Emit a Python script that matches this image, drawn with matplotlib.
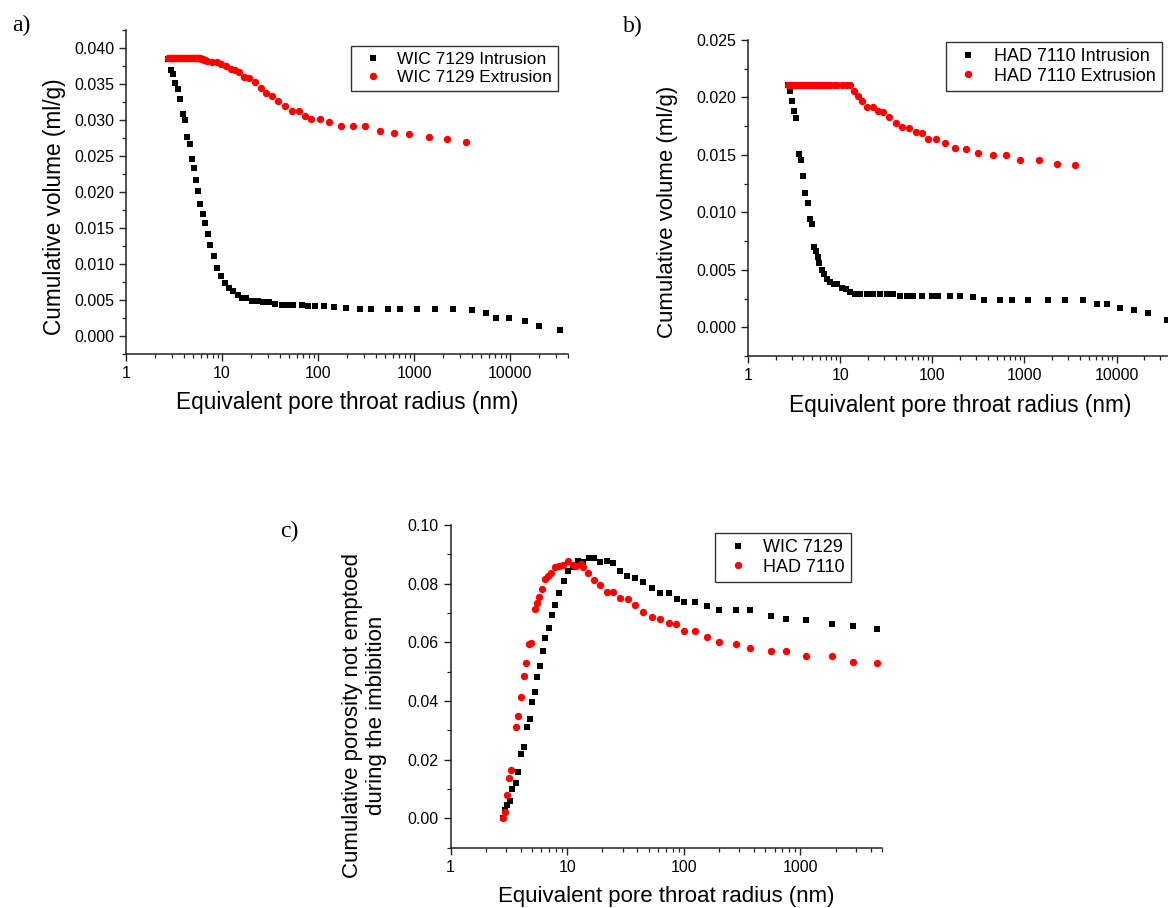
import matplotlib
matplotlib.use("Agg")
import matplotlib.pyplot as plt
import matplotlib.ticker as mticker

plt.rcParams['font.family'] = ['Liberation Sans', 'DejaVu Sans']

# panel a) WIC 7129
a_int_r = [2.75, 2.92, 3.09, 3.24, 3.51, 3.68, 3.90, 4.12, 4.36, 4.61,
           4.83, 5.11, 5.36, 5.62, 5.94, 6.28, 6.69, 7.14, 7.55, 8.18,
           8.92, 9.74, 10.7, 11.8, 13.1, 14.5, 16.2, 17.8, 20.6, 23.4,
           26.6, 30.7, 36.0, 42.2, 48.3, 54.5, 68.1, 78.5, 93.7, 114,
           148, 197, 270, 359, 539, 716, 1074, 1650, 2517, 3965,
           5595, 7160, 9770, 14220, 19860, 32800]
a_int_v = [0.0385, 0.0370, 0.0364, 0.0351, 0.0343, 0.0329, 0.0308, 0.0300, 0.0277, 0.0267,
           0.0246, 0.0233, 0.0216, 0.0202, 0.0184, 0.0170, 0.0157, 0.0141, 0.0126, 0.0111,
           0.0095, 0.0083, 0.0074, 0.0067, 0.0062, 0.0057, 0.0053, 0.0053, 0.0049, 0.0048,
           0.0047, 0.0047, 0.0044, 0.0043, 0.0043, 0.0043, 0.0043, 0.0041, 0.0041, 0.0041,
           0.0040, 0.0039, 0.0038, 0.0038, 0.0038, 0.0038, 0.0038, 0.0038, 0.0037, 0.0036,
           0.0032, 0.0025, 0.0025, 0.0021, 0.0014, 0.0008]
a_ext_r = [2.75, 2.84, 2.92, 3.00, 3.09, 3.17, 3.24, 3.37, 3.51, 3.60,
           3.68, 3.79, 3.90, 4.01, 4.12, 4.24, 4.36, 4.48, 4.61, 4.72,
           4.83, 4.97, 5.11, 5.23, 5.36, 5.49, 5.62, 5.78, 5.94, 6.11,
           6.28, 6.48, 6.69, 7.03, 7.91, 8.91, 9.66, 10.9, 12.3, 13.6,
           15.0, 16.9, 19.0, 22.0, 25.2, 28.4, 32.8, 38.4, 45.0, 53.6,
           62.9, 73.8, 85.2, 104, 131, 173, 232, 311, 446, 624,
           888, 1416, 2213, 3435]
a_ext_v = [0.0386, 0.0386, 0.0386, 0.0386, 0.0386, 0.0386, 0.0386, 0.0386, 0.0386, 0.0386,
           0.0386, 0.0386, 0.0386, 0.0386, 0.0386, 0.0386, 0.0386, 0.0386, 0.0386, 0.0386,
           0.0386, 0.0386, 0.0386, 0.0386, 0.0386, 0.0386, 0.0386, 0.0386, 0.0386, 0.0385,
           0.0385, 0.0384, 0.0383, 0.0382, 0.0381, 0.0381, 0.0378, 0.0375, 0.0371, 0.0370,
           0.0366, 0.0360, 0.0358, 0.0353, 0.0344, 0.0338, 0.0334, 0.0327, 0.0320, 0.0313,
           0.0313, 0.0306, 0.0302, 0.0302, 0.0297, 0.0292, 0.0292, 0.0292, 0.0285, 0.0282,
           0.0280, 0.0276, 0.0273, 0.0270]

# panel b) HAD 7110
b_int_r = [2.75, 2.85, 3.03, 3.16, 3.29, 3.57, 3.73, 3.98, 4.19, 4.44,
           4.67, 4.91, 5.20, 5.42, 5.70, 5.94, 6.30, 6.67, 7.13, 7.75,
           8.49, 9.30, 10.4, 11.6, 12.8, 14.5, 16.4, 19.4, 22.9, 27.0,
           31.9, 37.7, 44.5, 52.6, 62.1, 76.5, 98.3, 116, 157, 198,
           277, 364, 547, 730, 1106, 1822, 2735, 4375, 6180, 7870,
           11000, 15660, 22100, 35600]
b_int_v = [0.0211, 0.0206, 0.0197, 0.0188, 0.0182, 0.0151, 0.0146, 0.0132, 0.0117, 0.0108,
           0.0094, 0.0090, 0.0070, 0.0066, 0.0061, 0.0056, 0.0050, 0.0046, 0.0042, 0.0039,
           0.0038, 0.0038, 0.0034, 0.0033, 0.0031, 0.0029, 0.0029, 0.0029, 0.0029, 0.0029,
           0.0029, 0.0029, 0.0027, 0.0027, 0.0027, 0.0027, 0.0027, 0.0027, 0.0027, 0.0027,
           0.0026, 0.0024, 0.0024, 0.0024, 0.0024, 0.0024, 0.0024, 0.0024, 0.0020, 0.0020,
           0.0017, 0.0015, 0.0012, 0.0006]
b_ext_r = [2.75, 2.85, 2.95, 3.03, 3.16, 3.29, 3.43, 3.57, 3.73, 3.85,
           3.98, 4.19, 4.44, 4.67, 4.91, 5.20, 5.42, 5.70, 5.94, 6.30,
           6.67, 7.13, 7.75, 8.49, 9.30, 10.4, 11.6, 12.8, 14.1, 15.7,
           17.4, 19.7, 22.5, 25.5, 29.4, 34.1, 40.0, 47.2, 55.7, 65.9,
           76.5, 90.3, 109, 136, 176, 231, 317, 455, 637, 898,
           1437, 2258, 3556]
b_ext_v = [0.0211, 0.0211, 0.0211, 0.0211, 0.0211, 0.0211, 0.0211, 0.0211, 0.0211, 0.0211,
           0.0211, 0.0211, 0.0211, 0.0211, 0.0211, 0.0211, 0.0211, 0.0211, 0.0211, 0.0211,
           0.0211, 0.0211, 0.0211, 0.0211, 0.0211, 0.0211, 0.0211, 0.0211, 0.0206, 0.0201,
           0.0197, 0.0192, 0.0192, 0.0188, 0.0187, 0.0183, 0.0178, 0.0174, 0.0173, 0.0170,
           0.0169, 0.0164, 0.0164, 0.0160, 0.0156, 0.0155, 0.0152, 0.0150, 0.0150, 0.0146,
           0.0146, 0.0142, 0.0141]

# panel c) porosity not emptied
c_wic_r = [2.82, 2.93, 3.05, 3.20, 3.35, 3.62, 3.79, 4.04, 4.26, 4.50,
           4.76, 5.02, 5.26, 5.52, 5.87, 6.15, 6.50, 6.97, 7.42, 7.89,
           8.53, 9.30, 10.2, 11.3, 12.4, 13.7, 15.4, 17.0, 19.2, 21.8,
           24.7, 28.4, 32.6, 38.1, 44.2, 52.9, 62.8, 74.0, 86.5, 101,
           124, 159, 202, 281, 372, 557, 744, 1117, 1853, 2802, 4508]
c_wic_v = [0.0, 0.0028, 0.0046, 0.0059, 0.0100, 0.0122, 0.0159, 0.0219, 0.0244, 0.0310,
           0.0339, 0.0398, 0.0432, 0.0481, 0.0521, 0.0572, 0.0616, 0.0650, 0.0693, 0.0726,
           0.0768, 0.0810, 0.0843, 0.0858, 0.0877, 0.0875, 0.0889, 0.0889, 0.0874, 0.0878,
           0.0869, 0.0844, 0.0825, 0.0821, 0.0806, 0.0786, 0.0767, 0.0767, 0.0747, 0.0736,
           0.0736, 0.0724, 0.0709, 0.0709, 0.0709, 0.0689, 0.0681, 0.0675, 0.0664, 0.0655, 0.0647]
c_had_r = [2.82, 2.93, 3.05, 3.17, 3.32, 3.62, 3.79, 4.04, 4.23, 4.47,
           4.72, 4.87, 5.26, 5.52, 5.74, 6.11, 6.50, 6.81, 7.25, 7.83,
           8.47, 9.16, 10.1, 11.1, 12.0, 13.1, 13.7, 15.2, 17.1, 19.1,
           21.8, 24.7, 28.4, 32.9, 38.1, 44.2, 52.9, 62.4, 74.0, 85.2,
           101, 124, 159, 202, 281, 372, 557, 744, 1117, 1853, 2802, 4508]
c_had_v = [0.0, 0.0023, 0.0080, 0.0136, 0.0165, 0.0313, 0.0349, 0.0415, 0.0485, 0.0528,
           0.0594, 0.0599, 0.0714, 0.0733, 0.0756, 0.0781, 0.0816, 0.0826, 0.0835, 0.0858,
           0.0861, 0.0865, 0.0878, 0.0863, 0.0861, 0.0867, 0.0858, 0.0835, 0.0813, 0.0794,
           0.0772, 0.0772, 0.0751, 0.0747, 0.0728, 0.0703, 0.0685, 0.0681, 0.0667, 0.0661,
           0.0639, 0.0639, 0.0619, 0.0600, 0.0596, 0.0581, 0.0572, 0.0572, 0.0553, 0.0553,
           0.0534, 0.0528]

xlabel = "Equivalent pore throat radius (nm)"

fig = plt.figure(figsize=(11.68, 9.08), dpi=100)
W, H = 1168.0, 908.0


def make_axes(x0, x1, ytop, ybot):
    # pixel box -> figure fraction
    return fig.add_axes([x0 / W, 1 - ybot / H, (x1 - x0) / W, (ybot - ytop) / H])


def style(ax, xmax, ylim, ymajor, yfmt):
    ax.set_xscale('log')
    ax.set_xlim(1, xmax)
    ax.set_ylim(*ylim)
    for s in ['top', 'right']:
        ax.spines[s].set_visible(False)
    for s in ['left', 'bottom']:
        ax.spines[s].set_linewidth(1.1)
        ax.spines[s].set_color('#222222')
    ax.xaxis.set_major_locator(mticker.LogLocator(base=10, numticks=10))
    ax.xaxis.set_minor_locator(mticker.LogLocator(base=10, subs=range(2, 10), numticks=10))
    ax.xaxis.set_major_formatter(mticker.FuncFormatter(lambda v, _: "%g" % v))
    ax.xaxis.set_minor_formatter(mticker.NullFormatter())
    ax.yaxis.set_major_locator(mticker.MultipleLocator(ymajor))
    ax.yaxis.set_minor_locator(mticker.MultipleLocator(ymajor / 2))
    ax.yaxis.set_major_formatter(mticker.FormatStrFormatter(yfmt))
    ax.tick_params(which='major', direction='out', length=5, width=1.0,
                   labelsize=11.5, color='#222222')
    ax.tick_params(which='minor', direction='out', length=3, width=0.9, color='#222222')
    ax.patch.set_alpha(0)


def legend(ax, anchor, fs):
    leg = ax.legend(loc='upper right', bbox_to_anchor=anchor, fontsize=fs,
                    frameon=True, fancybox=False, edgecolor='black',
                    handlelength=1.8, handletextpad=0.5, labelspacing=0.15,
                    borderpad=0.35, markerscale=1.0, borderaxespad=0)
    leg.get_frame().set_linewidth(1.0)


ms_sq, ms_ci = 4.7, 5.3

# a)
ax = make_axes(126, 568, 30, 354)
ax.plot(a_int_r, a_int_v, 's', color='black', ms=ms_sq, mew=0, label='WIC 7129 Intrusion')
ax.plot(a_ext_r, a_ext_v, 'o', color='#ff0000', ms=ms_ci, mew=0, label='WIC 7129 Extrusion')
style(ax, 40000, (-0.0025, 0.0425), 0.005, '%.3f')
ax.set_ylabel("Cumulative volume (ml/g)", fontsize=16.3)
ax.yaxis.set_label_coords(-0.136, 0.455)
ax.set_xlabel(xlabel, fontsize=16.3)
ax.xaxis.set_label_coords(0.5, -0.115)
legend(ax, (0.977, 0.951), 12.5)

# b)
ax = make_axes(748, 1172, 40, 356)
ax.plot(b_int_r, b_int_v, 's', color='black', ms=ms_sq, mew=0, label='HAD 7110 Intrusion')
ax.plot(b_ext_r, b_ext_v, 'o', color='#ff0000', ms=ms_ci, mew=0, label='HAD 7110 Extrusion')
style(ax, 40000, (-0.0025, 0.025), 0.005, '%.3f')
ax.set_ylabel("Cumulative volume (ml/g)", fontsize=16)
ax.yaxis.set_label_coords(-0.165, 0.455)
ax.set_xlabel(xlabel, fontsize=16.3)
ax.xaxis.set_label_coords(0.5, -0.12)
legend(ax, (0.976, 0.995), 13)

# c)
ax = make_axes(450.6, 882, 525, 847.7)
ax.plot(c_wic_r, c_wic_v, 's', color='black', ms=ms_sq, mew=0, label='WIC 7129')
ax.plot(c_had_r, c_had_v, 'o', color='#ff0000', ms=ms_ci, mew=0, label='HAD 7110')
style(ax, 5000, (-0.01, 0.10), 0.02, '%.2f')
ax.set_ylabel("Cumulative porosity not emptoed\nduring the imbibition", fontsize=16,
              linespacing=1.15)
ax.yaxis.set_label_coords(-0.148, 0.41)
ax.set_xlabel(xlabel, fontsize=16)
ax.xaxis.set_label_coords(0.5, -0.12)
legend(ax, (0.928, 0.976), 13)

# panel letters
for txt, px, py in [("a)", 12, 31), ("b)", 623, 32), ("c)", 280, 537)]:
    fig.text(px / W, 1 - py / H, txt, fontsize=17, family='Liberation Serif',
             ha='left', va='baseline')

fig.savefig("out.png", dpi=100)
